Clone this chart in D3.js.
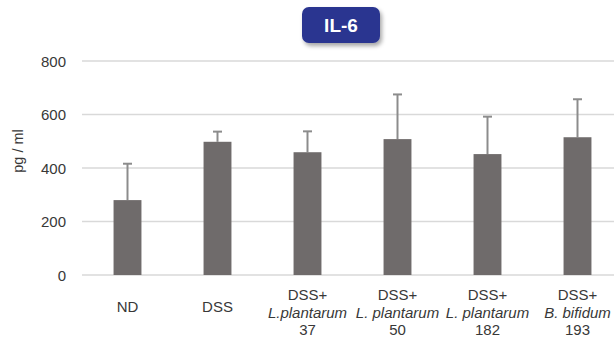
<!DOCTYPE html>
<html><head><meta charset="utf-8">
<script src="https://cdn.jsdelivr.net/npm/d3@7"></script>
<style>
body{margin:0;background:#fff;}
text{font-family:"Liberation Sans",Arial,sans-serif;}
</style></head>
<body><svg id="c" width="614" height="340"></svg>
<script>
const categories = [
  ["ND"],
  ["DSS"],
  ["DSS+", "L.plantarum", "37"],
  ["DSS+", "L. plantarum", "50"],
  ["DSS+", "L. plantarum", "182"],
  ["DSS+", "B. bifidum", "193"]
];
const values = [280, 498, 459, 508, 452, 515];
const errors = [136, 38, 78, 167, 140, 142];
const yTicks = [0, 200, 400, 600, 800];
const title = "IL-6";
const yLabel = "pg / ml";

const svg = d3.select("#c");
const x = d3.scaleBand().domain(d3.range(categories.length)).range([82.5, 622.5]).paddingInner(0.69).paddingOuter(0.345);
const y = d3.scaleLinear().domain([0, 800]).range([275, 61]);

// gridlines
svg.append("g").selectAll("line").data(yTicks).join("line")
  .attr("x1", 82).attr("x2", 614)
  .attr("y1", d => y(d)).attr("y2", d => y(d))
  .attr("stroke", "#d9d9d9").attr("stroke-width", 1.5);

// y axis labels
const yAxis = d3.axisLeft(y).tickValues(yTicks).tickSize(0).tickPadding(0);
const ya = svg.append("g").attr("transform", "translate(66,0)").call(yAxis);
ya.select(".domain").remove();
ya.selectAll("text").attr("font-size", 15).attr("fill", "#383838").attr("font-family", '"Liberation Sans",Arial,sans-serif').attr("dy", "0.36em");

svg.append("text").attr("transform", "translate(23,151) rotate(-90)")
  .attr("text-anchor", "middle").attr("font-size", 14.5).attr("fill", "#383838").text(yLabel);

// error bars
const eg = svg.append("g").attr("stroke", "#8c8c8c").attr("stroke-width", 2);
values.forEach((v, i) => {
  const cx = x(i) + x.bandwidth() / 2;
  eg.append("line").attr("x1", cx).attr("x2", cx).attr("y1", y(v)).attr("y2", y(v + errors[i]));
  eg.append("line").attr("x1", cx - 4.5).attr("x2", cx + 4.5).attr("y1", y(v + errors[i])).attr("y2", y(v + errors[i]));
});

// bars
svg.append("g").selectAll("rect").data(values).join("rect")
  .attr("x", (d, i) => x(i)).attr("width", x.bandwidth())
  .attr("y", d => y(d)).attr("height", d => y(0) - y(d))
  .attr("fill", "#6f6b6b");

// x labels
categories.forEach((lines, i) => {
  const cx = x(i) + x.bandwidth() / 2;
  const t = svg.append("text").attr("text-anchor", "middle").attr("font-size", 15).attr("fill", "#383838");
  if (lines.length === 1) {
    t.append("tspan").attr("x", cx).attr("y", 312).text(lines[0]);
  } else {
    lines.forEach((l, j) => {
      t.append("tspan").attr("x", cx).attr("y", 300 + j * 17.5)
        .attr("font-style", j === 1 ? "italic" : "normal").text(l);
    });
  }
});

// title box
const defs = svg.append("defs");
const f = defs.append("filter").attr("id", "sh").attr("x", "-20%").attr("y", "-20%").attr("width", "150%").attr("height", "160%");
f.append("feDropShadow").attr("dx", 2).attr("dy", 3).attr("stdDeviation", 2).attr("flood-color", "#000").attr("flood-opacity", 0.35);
svg.append("rect").attr("x", 302).attr("y", 7).attr("width", 78).attr("height", 36).attr("rx", 7)
  .attr("fill", "#2a3590").attr("filter", "url(#sh)");
svg.append("text").attr("x", 341).attr("y", 32).attr("text-anchor", "middle")
  .attr("font-size", 19).attr("font-weight", "bold").attr("fill", "#fff").text(title);
</script></body></html>
